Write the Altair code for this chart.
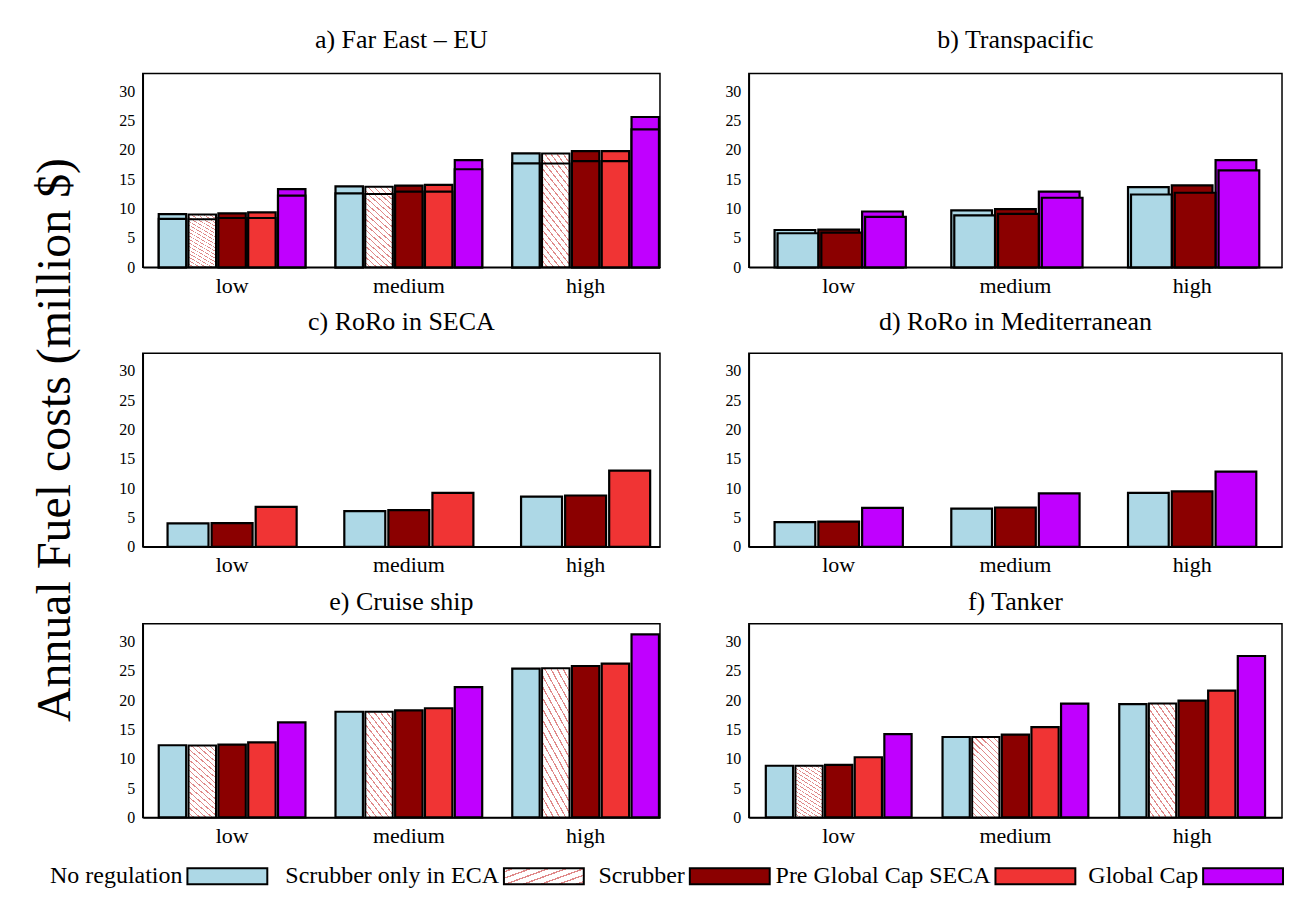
import altair as alt
import pandas as pd

FONT = "Liberation Serif"

levels = ["low", "medium", "high"]
series_names = ["No regulation", "Scrubber only in ECA", "Scrubber",
                "Pre Global Cap SECA", "Global Cap"]
series_colors = ["#add8e6", "#ffffff", "#8b0000", "#f03434", "#c000ff"]
HATCH = "Scrubber only in ECA"
y_title = "Annual Fuel costs (million $)"
y_ticks = [0, 5, 10, 15, 20, 25, 30]

# ---- a) Far East - EU (outer = upper bar, inner = overlaid lower bar)
a_series = ["No regulation", "Scrubber only in ECA", "Scrubber", "Pre Global Cap SECA", "Global Cap"]
a_no_reg = [9.05, 13.8, 19.4]
a_scr_eca = [9.0, 13.7, 19.4]
a_scrubber = [9.2, 13.9, 19.8]
a_pre_gc = [9.35, 14.05, 19.8]
a_global = [13.3, 18.25, 25.6]
a_no_reg_in = [8.25, 12.6, 17.7]
a_scr_eca_in = [8.2, 12.5, 17.7]
a_scrubber_in = [8.4, 12.9, 18.1]
a_pre_gc_in = [8.4, 12.9, 18.1]
a_global_in = [12.2, 16.7, 23.5]

# ---- b) Transpacific
b_series = ["No regulation", "Scrubber", "Global Cap"]
b_no_reg = [6.35, 9.7, 13.65]
b_scrubber = [6.4, 9.9, 13.95]
b_global = [9.5, 12.9, 18.25]
b_no_reg_in = [5.8, 8.85, 12.4]
b_scrubber_in = [5.9, 9.1, 12.7]
b_global_in = [8.6, 11.85, 16.5]

# ---- c) RoRo in SECA
c_series = ["No regulation", "Scrubber", "Pre Global Cap SECA"]
c_no_reg = [4.0, 6.1, 8.55]
c_scrubber = [4.05, 6.25, 8.75]
c_pre_gc = [6.8, 9.2, 13.0]

# ---- d) RoRo in Mediterranean
d_series = ["No regulation", "Scrubber", "Global Cap"]
d_no_reg = [4.2, 6.5, 9.2]
d_scrubber = [4.3, 6.7, 9.45]
d_global = [6.65, 9.1, 12.8]

# ---- e) Cruise ship
e_series = a_series
e_no_reg = [12.3, 18.0, 25.35]
e_scr_eca = [12.25, 18.0, 25.4]
e_scrubber = [12.4, 18.25, 25.8]
e_pre_gc = [12.8, 18.6, 26.2]
e_global = [16.2, 22.2, 31.2]

# ---- f) Tanker
f_series = a_series
f_no_reg = [8.8, 13.7, 19.3]
f_scr_eca = [8.8, 13.7, 19.4]
f_scrubber = [8.95, 14.1, 19.9]
f_pre_gc = [10.25, 15.4, 21.6]
f_global = [14.2, 19.4, 27.5]

# hatch look for "Scrubber only in ECA" (striped gradient)
N_STRIPES = 18
stops = []
for k in range(N_STRIPES):
    stops.append({"offset": k / N_STRIPES, "color": "#ffffff"})
    stops.append({"offset": (k + 0.78) / N_STRIPES, "color": "#ffffff"})
    stops.append({"offset": (k + 0.78) / N_STRIPES, "color": "#e08a8a"})
    stops.append({"offset": (k + 1) / N_STRIPES, "color": "#e08a8a"})
HATCH_FILL = {"gradient": "linear", "x1": 0, "y1": 1, "x2": 0.4, "y2": -0.2, "stops": stops}

LEFT_W, RIGHT_W, PANEL_H = 518, 534, 194
RIGHT_BAND = 146  # band width of a group in the right-hand panels
SHIFT = 3         # overlay shift seen in panel b


def make_panel(pid, title, series, outer, inner, side, toffset, shifted=False):
    slot = f"slot_{pid}"
    slot_in = f"slot_{pid}_in"
    rows = []
    for i, s in enumerate(series):
        for j, lvl in enumerate(levels):
            rows.append({"level": lvl, "series": s, slot: s, slot_in: s,
                         "value": outer[i][j],
                         "inner": inner[i][j] if inner else None})
    df = pd.DataFrame(rows)
    if side == "left":
        xs = alt.Scale(paddingInner=0.17, paddingOuter=0.048, align=0.94)
        w = LEFT_W
    else:
        xs = alt.Scale(paddingInner=0.175, paddingOuter=0.096, align=0.5)
        w = RIGHT_W
    if len(series) == 5:
        pin, pout = 0.08, 0.0
    else:
        pin, pout = 0.07, 0.2
    xos = alt.Scale(domain=series, paddingInner=pin, paddingOuter=pout)
    x = alt.X("level:N", sort=levels, scale=xs,
              axis=alt.Axis(title=None, labelAngle=0, ticks=False, labelFontSize=22,
                            labelPadding=8, domainColor="black", domainWidth=1.5,
                            labelColor="black", labelFont=FONT))
    yaxis = alt.Axis(title=None, values=y_ticks, grid=False, ticks=False, labelFontSize=16,
                     labelPadding=8, domainColor="black", domainWidth=1.5,
                     labelColor="black", labelFont=FONT)
    yscale = alt.Scale(domain=[0, 33], nice=False)
    fill = alt.Fill("series:N", scale=alt.Scale(domain=series_names, range=series_colors),
                    legend=None)
    layers = []
    for field in (["value", "inner"] if inner else ["value"]):
        if field == "inner" and shifted:
            xo = alt.XOffset(f"{slot_in}:N", sort=series,
                             scale=alt.Scale(domain=series, paddingInner=pin, paddingOuter=pout,
                                             range=[SHIFT, RIGHT_BAND + SHIFT]))
        else:
            xo = alt.XOffset(f"{slot}:N", sort=series, scale=xos)
        base = alt.Chart(df).encode(x=x, xOffset=xo)
        y = alt.Y(f"{field}:Q", scale=yscale, axis=yaxis)
        layers.append(base.mark_bar(stroke="black", strokeWidth=2.2).encode(y=y, fill=fill)
                      .transform_filter(alt.datum.series != HATCH))
        if HATCH in series:
            layers.append(base.mark_bar(stroke="black", strokeWidth=2.0, fill=HATCH_FILL)
                          .encode(y=y).transform_filter(alt.datum.series == HATCH))
    lay = alt.layer(*layers)
    if shifted:
        lay = lay.resolve_scale(xOffset="independent")
    return lay.properties(
        width=w, height=PANEL_H,
        title=alt.TitleParams(title, fontSize=26, font=FONT, fontWeight="normal",
                              color="black", offset=toffset))


pa = make_panel("a", "a) Far East – EU", a_series,
                [a_no_reg, a_scr_eca, a_scrubber, a_pre_gc, a_global],
                [a_no_reg_in, a_scr_eca_in, a_scrubber_in, a_pre_gc_in, a_global_in], "left", 21)
pb = make_panel("b", "b) Transpacific", b_series, [b_no_reg, b_scrubber, b_global],
                [b_no_reg_in, b_scrubber_in, b_global_in], "right", 21, shifted=True)
pc = make_panel("c", "c) RoRo in SECA", c_series, [c_no_reg, c_scrubber, c_pre_gc], None,
                "left", 18)
pd_ = make_panel("d", "d) RoRo in Mediterranean", d_series, [d_no_reg, d_scrubber, d_global],
                 None, "right", 18)
pe = make_panel("e", "e) Cruise ship", e_series,
                [e_no_reg, e_scr_eca, e_scrubber, e_pre_gc, e_global], None, "left", 9)
pf = make_panel("f", "f) Tanker", f_series,
                [f_no_reg, f_scr_eca, f_scrubber, f_pre_gc, f_global], None, "right", 9)


def row(l, r):
    return alt.hconcat(l, r, spacing=63).resolve_scale(xOffset="independent")


grid = alt.vconcat(row(pa, pb), row(pc, pd_), row(pe, pf),
                   spacing=11).resolve_scale(xOffset="independent")

ytitle_chart = alt.Chart(pd.DataFrame({"t": [y_title]})).mark_text(
    angle=270, fontSize=48, font=FONT, color="black", align="center", baseline="middle"
).encode(text="t:N", x=alt.value(47), y=alt.value(367)).properties(
    width=90, height=780, view=alt.ViewBackground(stroke="transparent"))

# legend: label first, then swatch
LEG_W = 1282
leg_rows = []
cur = 29.0
for s in series_names:
    tw = len(s) * 10.9
    sw0 = cur + tw + 8
    sw1 = sw0 + 80
    leg_rows.append({"series": s, "tx": sw0 - 5, "x0": sw0, "x1": sw1})
    cur = sw1 + 11
leg_df = pd.DataFrame(leg_rows)
lx = alt.Scale(domain=[0, LEG_W], range=[0, LEG_W])
leg_base = alt.Chart(leg_df)
leg_text = leg_base.mark_text(align="right", baseline="middle", fontSize=24, font=FONT,
                              color="black").encode(
    x=alt.X("tx:Q", scale=lx, axis=None), y=alt.value(15), text="series:N")
leg_rect = leg_base.mark_rect(stroke="black", strokeWidth=2).encode(
    x=alt.X("x0:Q", scale=lx, axis=None), x2="x1:Q", y=alt.value(7), y2=alt.value(23),
    fill=alt.Fill("series:N", scale=alt.Scale(domain=series_names, range=series_colors),
                  legend=None)).transform_filter(alt.datum.series != HATCH)
leg_hatch = leg_base.mark_rect(stroke="black", strokeWidth=2, fill=HATCH_FILL).encode(
    x=alt.X("x0:Q", scale=lx, axis=None), x2="x1:Q", y=alt.value(7), y2=alt.value(23)
).transform_filter(alt.datum.series == HATCH)
legend = alt.layer(leg_text, leg_rect, leg_hatch).properties(
    width=LEG_W, height=30, view=alt.ViewBackground(stroke="transparent"))

chart = alt.vconcat(
    alt.hconcat(ytitle_chart, grid, spacing=18).resolve_scale(xOffset="independent"),
    legend, spacing=7
).resolve_scale(xOffset="independent").properties(
    padding={"left": 0, "top": 17, "right": 0, "bottom": 0}).configure_view(
    stroke="black", strokeWidth=1.5).configure_axis(labelFont=FONT, labelColor="black")

chart.save("out.html", embed_options={"renderer": "svg", "actions": False})
